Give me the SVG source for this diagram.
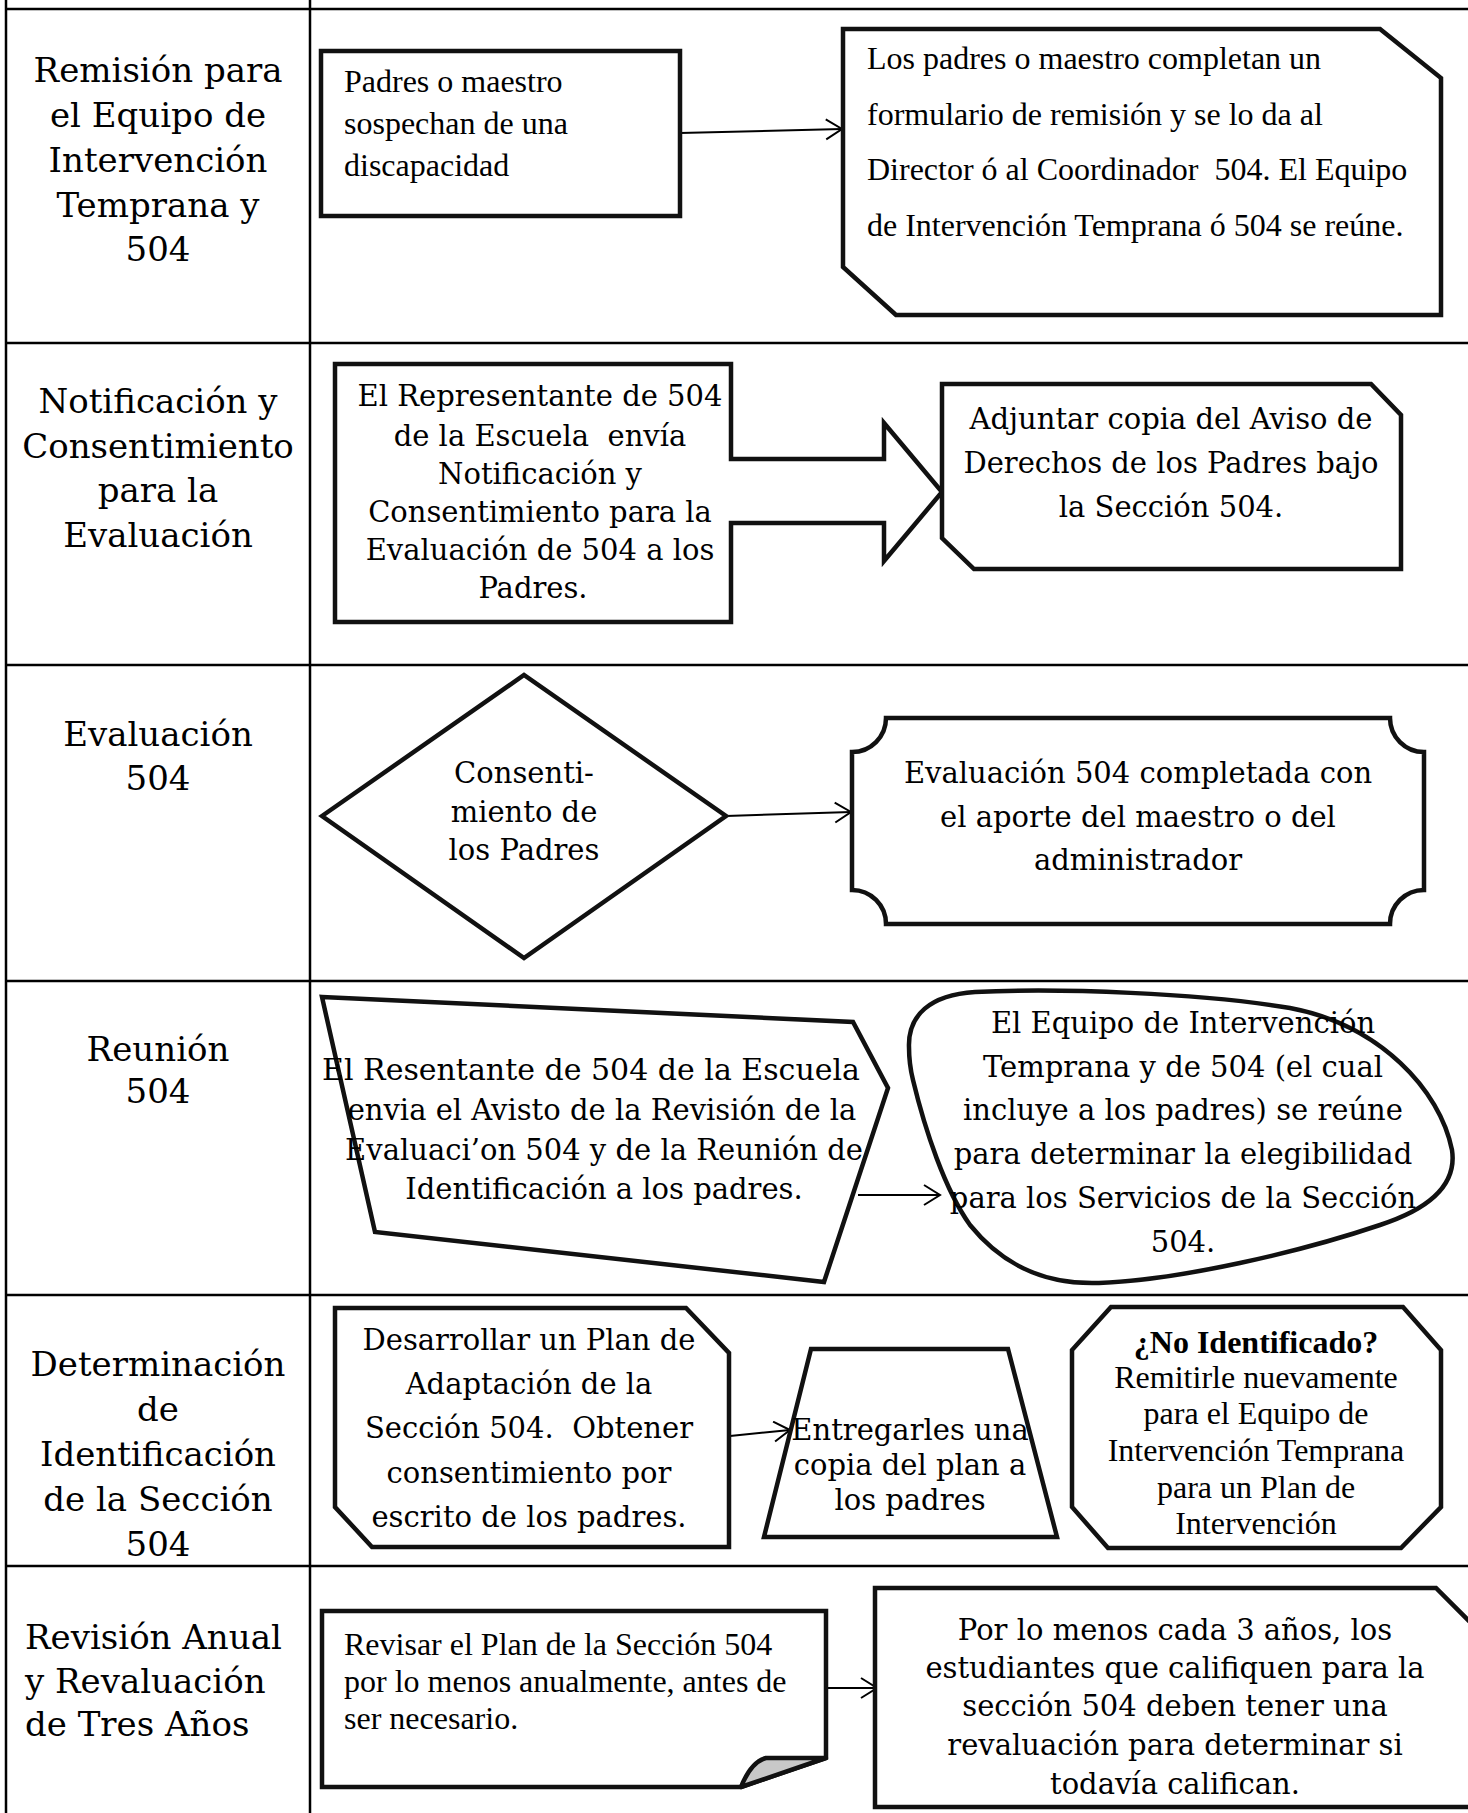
<svg xmlns="http://www.w3.org/2000/svg" width="1468" height="1813" viewBox="0 0 1468 1813">
<style>
.grid{stroke:#000;stroke-width:2.5;fill:none}
.shape{fill:#fff;stroke:#111;stroke-width:4.5;stroke-linejoin:miter}
.cs{font-family:"DejaVu Serif",serif;fill:#000}
.lbl{font-size:34px;text-anchor:middle}
.box{font-size:29px;text-anchor:middle}
.tr{font-family:"Liberation Serif","Times New Roman",serif;font-size:32px;fill:#000}
.conn{stroke:#000;stroke-width:2;fill:none;marker-end:url(#arr)}
</style>
<defs>
<marker id="arr" markerUnits="userSpaceOnUse" markerWidth="20" markerHeight="24" refX="17" refY="11" orient="auto">
<path d="M1,1 L17,11 L1,21" fill="none" stroke="#000" stroke-width="2"/>
</marker>
</defs>
<rect width="1468" height="1813" fill="#fff"/>
<g id="grid">
<line class="grid" x1="6" y1="0" x2="6" y2="1813"/>
<line class="grid" x1="310" y1="0" x2="310" y2="1813"/>
<line class="grid" x1="5" y1="9" x2="1468" y2="9"/>
<line class="grid" x1="5" y1="343" x2="1468" y2="343"/>
<line class="grid" x1="5" y1="665" x2="1468" y2="665"/>
<line class="grid" x1="5" y1="981" x2="1468" y2="981"/>
<line class="grid" x1="5" y1="1295" x2="1468" y2="1295"/>
<line class="grid" x1="5" y1="1566" x2="1468" y2="1566"/>
</g>
<g id="labels" class="cs lbl">
<text x="158" y="82">Remisión para</text>
<text x="158" y="127">el Equipo de</text>
<text x="158" y="172">Intervención</text>
<text x="158" y="217">Temprana y</text>
<text x="158" y="261">504</text>
<text x="158" y="413">Notificación y</text>
<text x="158" y="458">Consentimiento</text>
<text x="158" y="502">para la</text>
<text x="158" y="547">Evaluación</text>
<text x="158" y="746">Evaluación</text>
<text x="158" y="790">504</text>
<text x="158" y="1061">Reunión</text>
<text x="158" y="1103">504</text>
<text x="158" y="1376">Determinación</text>
<text x="158" y="1421">de</text>
<text x="158" y="1466">Identificación</text>
<text x="158" y="1511">de la Sección</text>
<text x="158" y="1556">504</text>
<text x="25" y="1649" text-anchor="start">Revisión Anual</text>
<text x="25" y="1693" text-anchor="start">y Revaluación</text>
<text x="25" y="1736" text-anchor="start">de Tres Años</text>
</g>
<g id="connectors">
<path class="conn" d="M680 133 L842 129"/>
<path class="conn" d="M726 816 L851 812"/>
<path class="conn" d="M858 1195 L940 1195"/>
<path class="conn" d="M730 1436 L790 1430"/>
<path class="conn" d="M826 1688 L877 1688"/>
</g>
<g id="n1">
<rect class="shape" x="321" y="51" width="359" height="165"/>
<text class="tr" x="344" y="92">Padres o maestro</text>
<text class="tr" x="344" y="134">sospechan de una</text>
<text class="tr" x="344" y="176">discapacidad</text>
</g>
<g id="n2">
<polygon class="shape" points="843,29 1380,29 1441,78 1441,315 896,315 843,267"/>
<text class="tr" x="867" y="69">Los padres o maestro completan un</text>
<text class="tr" x="867" y="125">formulario de remisión y se lo da al</text>
<text class="tr" x="867" y="180">Director ó al Coordinador&#160; 504. El Equipo</text>
<text class="tr" x="867" y="236">de Intervención Temprana ó 504 se reúne.</text>
</g>
<g id="n3">
<polygon class="shape" points="335,364 731,364 731,459 884,459 884,423 942,492 884,561 884,523 731,523 731,622 335,622"/>
<g class="cs box">
<text x="540" y="406">El Representante de 504</text>
<text x="540" y="446">de la Escuela&#160; envía</text>
<text x="540" y="484">Notificación y</text>
<text x="540" y="522">Consentimiento para la</text>
<text x="540" y="560">Evaluación de 504 a los</text>
<text x="533" y="598">Padres.</text>
</g>
</g>
<g id="n4">
<polygon class="shape" points="942,384 1371,384 1401,415 1401,569 974,569 942,538"/>
<g class="cs box" font-size="29.5">
<text x="1171" y="429">Adjuntar copia del Aviso de</text>
<text x="1171" y="473">Derechos de los Padres bajo</text>
<text x="1171" y="517">la Sección 504.</text>
</g>
</g>
<g id="n5">
<polygon class="shape" points="322,816 524,675 726,816 524,958"/>
<g class="cs box" font-size="28.5">
<text x="524" y="783">Consenti-</text>
<text x="524" y="822">miento de</text>
<text x="524" y="860">los Padres</text>
</g>
</g>
<g id="n6">
<path class="shape" d="M886 718 H1390 A34 34 0 0 0 1424 752 V890 A34 34 0 0 0 1390 924 H886 A34 34 0 0 0 852 890 V752 A34 34 0 0 0 886 718 Z"/>
<g class="cs box">
<text x="1138" y="783">Evaluación 504 completada con</text>
<text x="1138" y="827">el aporte del maestro o del</text>
<text x="1138" y="870">administrador</text>
</g>
</g>
<g id="n7">
<polygon class="shape" points="322,997 853,1022 888,1088 824,1282 375,1232"/>
<g class="cs box" font-size="30">
<text x="591" y="1080" textLength="538" lengthAdjust="spacingAndGlyphs">El Resentante de 504 de la Escuela</text>
<text x="602" y="1120">envia el Avisto de la Revisión de la</text>
<text x="604" y="1160">Evaluaci’on 504 y de la Reunión de</text>
<text x="604" y="1199">Identificación a los padres.</text>
</g>
</g>
<g id="n8">
<path class="shape" d="M909 1047 C908 1015 930 995 975 992 C1060 988 1200 993 1290 1008 C1380 1025 1440 1090 1452 1150 C1458 1190 1420 1212 1380 1225 C1300 1252 1180 1280 1099 1283 C1040 1285 1000 1262 970 1225 C945 1190 925 1130 913 1080 C910 1068 909 1058 909 1047 Z"/>
<g class="cs box">
<text x="1183" y="1033">El Equipo de Intervención</text>
<text x="1183" y="1077">Temprana y de 504 (el cual</text>
<text x="1183" y="1120">incluye a los padres) se reúne</text>
<text x="1183" y="1164">para determinar la elegibilidad</text>
<text x="1183" y="1208">para los Servicios de la Sección</text>
<text x="1183" y="1252">504.</text>
</g>
</g>
<g id="n9">
<polygon class="shape" points="335,1308 686,1308 729,1353 729,1547 372,1547 335,1507"/>
<g class="cs box" font-size="28.5">
<text x="529" y="1350">Desarrollar un Plan de</text>
<text x="529" y="1394">Adaptación de la</text>
<text x="529" y="1438">Sección 504.&#160; Obtener</text>
<text x="529" y="1483">consentimiento por</text>
<text x="529" y="1527">escrito de los padres.</text>
</g>
</g>
<g id="n10">
<polygon class="shape" points="811,1349 1008,1349 1057,1537 764,1537"/>
<g class="cs box" font-size="28.5">
<text x="910" y="1440">Entregarles una</text>
<text x="910" y="1475">copia del plan a</text>
<text x="910" y="1510">los padres</text>
</g>
</g>
<g id="n11">
<polygon class="shape" points="1111,1307 1403,1307 1441,1350 1441,1507 1401,1548 1108,1548 1072,1507 1072,1350"/>
<g class="tr" text-anchor="middle">
<text x="1256" y="1353" font-weight="bold">¿No Identificado?</text>
<text x="1256" y="1388">Remitirle nuevamente</text>
<text x="1256" y="1424">para el Equipo de</text>
<text x="1256" y="1461">Intervención Temprana</text>
<text x="1256" y="1498">para un Plan de</text>
<text x="1256" y="1534">Intervención</text>
</g>
</g>
<g id="n12">
<polygon class="shape" points="322,1611 826,1611 826,1758 741,1787 322,1787"/>
<path d="M741 1787 Q751 1762 766 1758 L826 1758 Z" fill="#c8c8c8" stroke="#111" stroke-width="4.5" stroke-linejoin="round"/>
<text class="tr" x="344" y="1655">Revisar el Plan de la Sección 504</text>
<text class="tr" x="344" y="1692">por lo menos anualmente, antes de</text>
<text class="tr" x="344" y="1729">ser necesario.</text>
</g>
<g id="n13">
<polygon class="shape" points="875,1588 1436,1588 1480,1632 1480,1807 875,1807"/>
<g class="cs box">
<text x="1175" y="1640">Por lo menos cada 3 años, los</text>
<text x="1175" y="1678">estudiantes que califiquen para la</text>
<text x="1175" y="1716">sección 504 deben tener una</text>
<text x="1175" y="1755">revaluación para determinar si</text>
<text x="1175" y="1794">todavía califican.</text>
</g>
</g>
</svg>
